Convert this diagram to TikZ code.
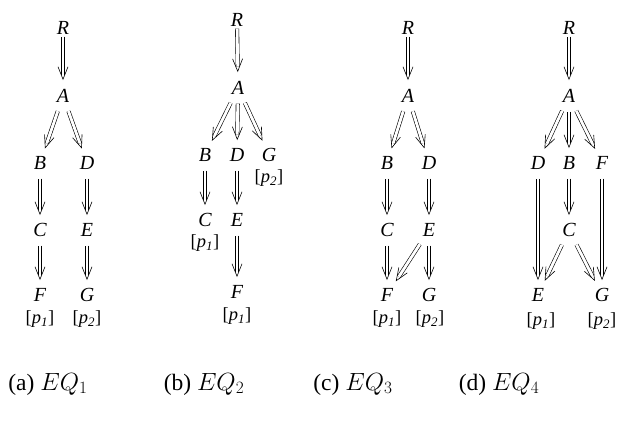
\documentclass[tikz,border=0pt]{standalone}
\usepackage{fontspec}
\setmainfont{Liberation Serif}
\usetikzlibrary{decorations.markings}
\tikzset{
  v/.style={font=\fontsize{20}{23}\selectfont\itshape, inner sep=0pt,
            text height=13pt, text depth=0pt, minimum width=13pt},
  lab/.style={font=\fontsize{18.5}{21}\selectfont, inner sep=0pt},
  captxt/.style={font=\fontsize{23.5}{27}\selectfont, inner sep=0pt},
  % double-shafted arrow: #1 = gap at the start, #2 = gap before the target
  arr/.style 2 args={
    preaction={draw, double, double distance=2.8pt, line width=0.6pt,
               shorten <=#1, shorten >=#2+4.8pt},
    postaction={decorate, decoration={markings,
      mark=at position -#2 with {
        \draw[line width=0.6pt, line join=miter]
          (-12.5pt,5pt) -- (0pt,0pt) -- (-12.5pt,-5pt);}}}},
  imp/.style={arr={9pt}{9pt}},
  firstarr/.style={arr={2pt}{10pt}}
}
\newcommand{\pl}[1]{[\textit{p}\textsubscript{\textit{#1}}]}
\begin{document}
\begin{tikzpicture}[x=1pt, y=-1pt]
\useasboundingbox (0,0) rectangle (619,426);

% (a)
\node[v] (aR) at (63,28) {R};
\node[v] (aA) at (63,96) {A};
\node[v] (aB) at (40,163) {B};
\node[v] (aD) at (87,163) {D};
\node[v] (aC) at (40,230) {C};
\node[v] (aE) at (87,230) {E};
\node[v] (aF) at (40,295) {F};
\node[v] (aG) at (87,295) {G};
\node[lab] (ap1) at (40,319) {\pl{1}};
\node[lab] (ap2) at (87,319) {\pl{2}};
\path[firstarr] (aR) -- (aA);
\path[imp] (aA) -- (aB);
\path[imp] (aA) -- (aD);
\path[imp] (aB) -- (aC);
\path[imp] (aD) -- (aE);
\path[imp] (aC) -- (aF);
\path[imp] (aE) -- (aG);
\node[captxt] (capa) at (48,384) {(a) $EQ_1$};

% (b)
\node[v] (bR) at (237,20) {R};
\node[v] (bA) at (238,88) {A};
\node[v] (bB) at (205,155) {B};
\node[v] (bD) at (237,155) {D};
\node[v] (bG) at (269,155) {G};
\node[lab] (bp2) at (269,178) {\pl{2}};
\node[v] (bC) at (205,220) {C};
\node[lab] (bp1) at (205,243) {\pl{1}};
\node[v] (bE) at (237,220) {E};
\node[v] (bF) at (237,292) {F};
\node[lab] (bp1b) at (237,316) {\pl{1}};
\path[firstarr] (bR) -- (bA);
\path[imp] (bA) -- (bB);
\path[imp] (bA) -- (bD);
\path[imp] (bA) -- (bG);
\path[imp] (bB) -- (bC);
\path[imp] (bD) -- (bE);
\path[imp] (bE) -- (bF);
\node[captxt] (capb) at (204,384) {(b) $EQ_2$};

% (c)
\node[v] (cR) at (408,28) {R};
\node[v] (cA) at (408,96) {A};
\node[v] (cB) at (387,163) {B};
\node[v] (cD) at (429,163) {D};
\node[v] (cC) at (387,230) {C};
\node[v] (cE) at (429,230) {E};
\node[v] (cF) at (387,295) {F};
\node[v] (cG) at (429,295) {G};
\node[lab] (cp1) at (387,319) {\pl{1}};
\node[lab] (cp2) at (430,319) {\pl{2}};
\path[firstarr] (cR) -- (cA);
\path[imp] (cA) -- (cB);
\path[imp] (cA) -- (cD);
\path[imp] (cB) -- (cC);
\path[imp] (cD) -- (cE);
\path[imp] (cC) -- (cF);
\path[imp] (cE) -- (cF);
\path[imp] (cE) -- (cG);
\node[captxt] (capc) at (353,384) {(c) $EQ_3$};

% (d)
\node[v] (dR) at (569,28) {R};
\node[v] (dA) at (569,96) {A};
\node[v] (dD) at (538,163) {D};
\node[v] (dB) at (569,163) {B};
\node[v] (dF) at (602,163) {F};
\node[v] (dC) at (569,230) {C};
\node[v] (dE) at (538,295) {E};
\node[v] (dG) at (602,295) {G};
\node[lab] (dp1) at (541,321) {\pl{1}};
\node[lab] (dp2) at (602,321) {\pl{2}};
\path[firstarr] (dR) -- (dA);
\path[imp] (dA) -- (dD);
\path[imp] (dA) -- (dB);
\path[imp] (dA) -- (dF);
\path[imp] (dD) -- (dE);
\path[imp] (dF) -- (dG);
\path[imp] (dB) -- (dC);
\path[imp] (dC) -- (dE);
\path[imp] (dC) -- (dG);
\node[captxt] (capd) at (499,384) {(d) $EQ_4$};
\end{tikzpicture}
\end{document}
